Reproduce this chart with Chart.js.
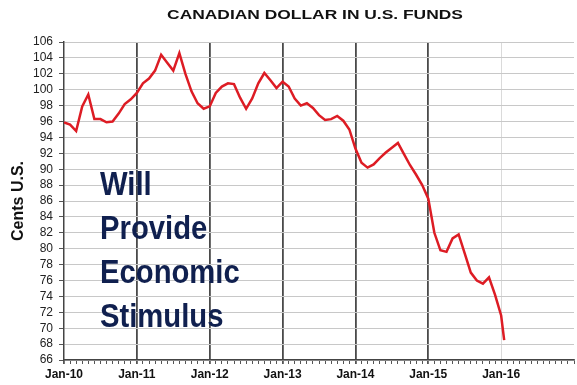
<!DOCTYPE html>
<html>
<head>
<meta charset="utf-8">
<script src="https://cdn.jsdelivr.net/npm/chart.js@4.4.1/dist/chart.umd.min.js"></script>
<style>
  html, body { margin: 0; padding: 0; background: #fff; }
</style>
</head>
<body>
<canvas id="chart" width="577" height="385"></canvas>
<script>
const titleText = 'CANADIAN DOLLAR IN U.S. FUNDS';
const yearLabels = ['Jan-10', 'Jan-11', 'Jan-12', 'Jan-13', 'Jan-14', 'Jan-15', 'Jan-16'];

// month-end value, cents U.S. per Canadian dollar, Jan-10 .. Jan-16
const cadMonthly = [
  95.9, 95.6, 94.8, 97.9, 99.4, 96.3, 96.3, 95.9, 96.0, 97.0, 98.2, 98.8,
  99.6, 100.8, 101.4, 102.4, 104.4, 103.4, 102.4, 104.6, 102.0, 99.8, 98.3, 97.6,
  97.9, 99.6, 100.4, 100.8, 100.7, 99.0, 97.6, 98.9, 100.8, 102.1, 101.2, 100.2,
  101.0, 100.4, 98.9, 98.0, 98.3, 97.7, 96.8, 96.2, 96.3, 96.7, 96.1, 95.0,
  92.6, 90.8, 90.2, 90.6, 91.4, 92.1, 92.7, 93.3, 91.9, 90.5, 89.3, 88.0,
  86.3, 82.0, 79.8, 79.6, 81.3, 81.8, 79.4, 77.0, 76.0, 75.6, 76.4, 74.2,
  71.6
];
// latest reading, mid January 2016
const latest = { month: 72.5, cents: 68.5 };

const slogan = ['Will', 'Provide', 'Economic', 'Stimulus'];

const points = cadMonthly.map((v, i) => ({ x: i, y: v }));
points.push({ x: latest.month, y: latest.cents });

const headline = {
  id: 'headline',
  afterDraw(chart) {
    const { ctx, chartArea } = chart;
    ctx.save();
    ctx.font = 'bold 12px "Liberation Sans", Arial, sans-serif';
    ctx.fillStyle = '#111';
    ctx.textAlign = 'center';
    ctx.textBaseline = 'middle';
    ctx.translate((chartArea.left + chartArea.right) / 2 - 4, 16);
    ctx.scale(1.45, 1);
    ctx.fillText(titleText, 0, 0);
    ctx.restore();
  }
};

const sloganText = {
  id: 'sloganText',
  beforeDatasetsDraw(chart) {
    const { ctx } = chart;
    ctx.save();
    ctx.font = 'bold 34px "Liberation Sans", Arial, sans-serif';
    ctx.fillStyle = '#10204f';
    ctx.textBaseline = 'alphabetic';
    slogan.forEach((line, i) => {
      ctx.save();
      ctx.translate(100, 195 + i * 44);
      ctx.scale(0.86, 1);
      ctx.fillText(line, 0, 0);
      ctx.restore();
    });
    ctx.restore();
  }
};

new Chart(document.getElementById('chart'), {
  type: 'line',
  data: {
    datasets: [{
      data: points,
      borderColor: '#dd1c24',
      borderWidth: 2.5,
      pointRadius: 0,
      tension: 0,
      fill: false
    }]
  },
  options: {
    responsive: false,
    animation: false,
    devicePixelRatio: 1,
    layout: { padding: { top: 42, right: 2, left: 0, bottom: 0 } },
    plugins: {
      legend: { display: false },
      tooltip: { enabled: false }
    },
    scales: {
      x: {
        type: 'linear',
        min: 0,
        max: 84,
        afterFit: s => { s.height = 25; },
        ticks: {
          stepSize: 1,
          autoSkip: false,
          maxTicksLimit: 100,
          maxRotation: 0,
          padding: 3,
          color: '#111',
          font: { size: 12, weight: 'bold', family: '"Liberation Sans", Arial, sans-serif' },
          callback: v => (v % 12 === 0 ? (yearLabels[v / 12] || '') : '')
        },
        grid: {
          color: c => {
            const v = c.tick.value;
            if (v % 12 === 0 && v > 0 && v <= 60) return '#4a4a4a';
            if (v === 72) return '#dadada';
            return 'rgba(0,0,0,0)';
          },
          lineWidth: c => (c.tick.value % 12 === 0 && c.tick.value <= 60 ? 1.8 : 1),
          tickColor: '#555',
          tickLength: 4
        },
        border: { color: '#444', width: 1.5 }
      },
      y: {
        min: 66,
        max: 106,
        afterFit: s => { s.width = 64; },
        ticks: {
          stepSize: 2,
          autoSkip: false,
          padding: 6,
          color: '#222',
          font: { size: 12, family: '"Liberation Sans", Arial, sans-serif' }
        },
        grid: {
          color: '#c8c8c8',
          lineWidth: 1,
          tickColor: '#555',
          tickLength: 5
        },
        border: { color: '#444', width: 1.5 },
        title: {
          display: true,
          text: 'Cents U.S.',
          color: '#111',
          padding: { top: 9, bottom: 0 },
          font: { size: 16, weight: 'bold', family: '"Liberation Sans", Arial, sans-serif' }
        }
      }
    }
  },
  plugins: [headline, sloganText]
});
</script>
</body>
</html>
